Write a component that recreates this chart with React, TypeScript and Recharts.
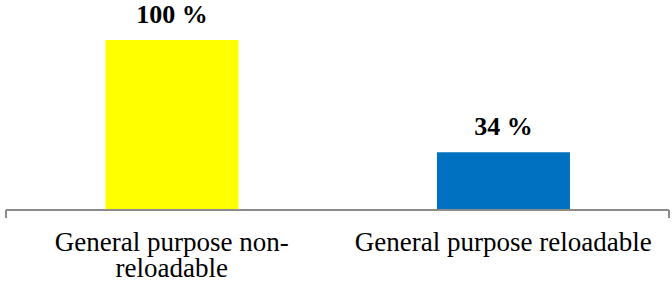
import React from 'react';
import { BarChart, Bar, XAxis, YAxis, LabelList, Cell } from 'recharts';

const categories = ['General purpose non-\nreloadable', 'General purpose reloadable'];
const shares = [100, 34];
const barColors = ['#ffff00', '#0070c0'];
const boundaryTicks = [0, 1, 2];

const data = categories.map((name, i) => ({ name, share: shares[i] }));

const FONT = '"Liberation Serif", "Times New Roman", serif';

const CategoryTick = ({ x, y, payload }: any) => {
    const lines = String(payload.value).split('\n');
    return (
        <text x={x} y={y} textAnchor="middle" fontFamily={FONT} fontSize={27} fill="#000">
            {lines.map((line, i) => (
                <tspan key={i} x={x} dy={i === 0 ? 40 : 26}>
                    {line}
                </tspan>
            ))}
        </text>
    );
};

// frame axis only needs its tick lines, no labels
const NoLabel = () => null;

export default function App() {
    return (
        <div style={{ position: 'absolute', left: 0, top: 0, width: 672, height: 285, background: '#fff' }}>
            <BarChart
                width={672}
                height={285}
                data={data}
                margin={{ top: 40, right: 3, left: 6, bottom: 0 }}
                barCategoryGap="30%"
            >
                {/* frame axis: id 0 so it sits right under the plot */}
                <XAxis
                    xAxisId={0}
                    type="number"
                    domain={[0, 2]}
                    ticks={boundaryTicks}
                    interval={0}
                    tick={<NoLabel />}
                    tickSize={8}
                    height={1}
                    axisLine={{ stroke: '#8c8c8c', strokeWidth: 2 }}
                    tickLine={{ stroke: '#8c8c8c', strokeWidth: 2 }}
                />
                <XAxis
                    xAxisId="cat"
                    dataKey="name"
                    axisLine={false}
                    tickLine={false}
                    tickSize={0}
                    tickMargin={0}
                    height={74}
                    interval={0}
                    tick={<CategoryTick />}
                />
                <YAxis hide domain={[0, 100]} />
                <Bar xAxisId="cat" dataKey="share" isAnimationActive={false}>
                    {data.map((_, i) => (
                        <Cell key={i} fill={barColors[i]} />
                    ))}
                    <LabelList
                        dataKey="share"
                        position="top"
                        offset={17}
                        formatter={(v: any) => `${v} %`}
                        style={{ fontFamily: FONT, fontSize: 26, fontWeight: 'bold', fill: '#000' }}
                    />
                </Bar>
            </BarChart>
        </div>
    );
}
